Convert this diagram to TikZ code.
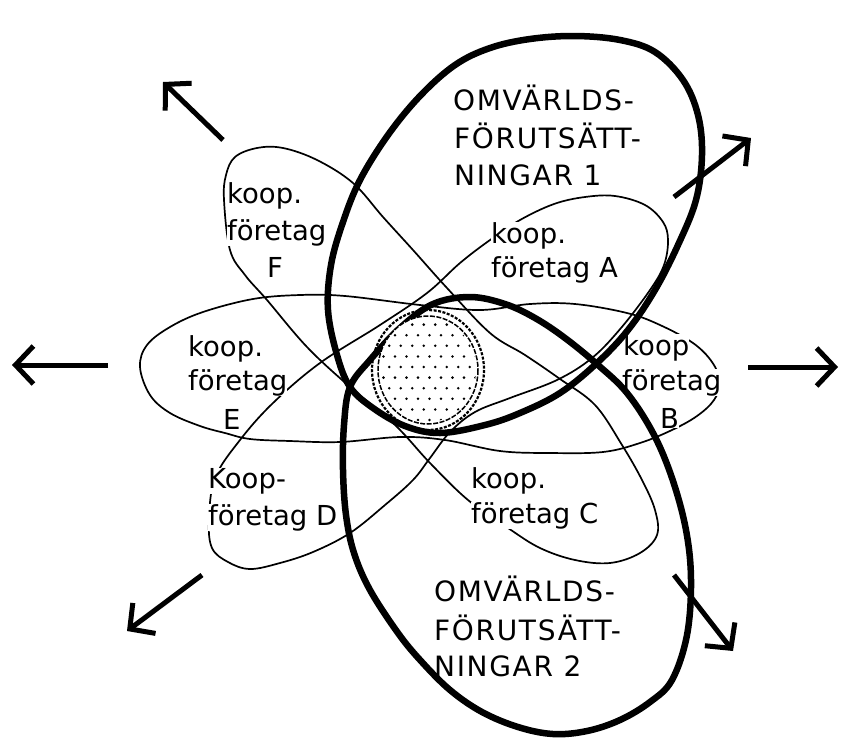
\documentclass[tikz,border=0pt]{standalone}
\usepackage{fontspec}
\setmainfont{DejaVu Sans}
\newfontfamily\capsfont[LetterSpace=6]{DejaVu Sans}
\usetikzlibrary{arrows.meta}
\tikzset{
  bigring/.style={line width=6.5pt, line join=round},
  petal/.style={line width=1.7pt, line join=round},
  lbl/.style={anchor=base west, inner sep=0pt, font=\fontsize{27.5}{36}\selectfont, fill=white},
  caplbl/.style={anchor=base west, inner sep=0pt, font=\capsfont\fontsize{28}{36}\selectfont},
  outarrow/.style={line width=5pt, -{Straight Barb[length=18pt,width=38pt]}},
}
\begin{document}
\begin{tikzpicture}[x=1pt,y=-1pt]
\fill[white] (0,0) rectangle (842,737);
\useasboundingbox (0,0) rectangle (842,737);

% petals (thin long ellipses)
\draw[petal] plot[smooth cycle, tension=0.6] coordinates {
 (140,367) (147,345) (170,327) (203,312) (253,299) (300,295) (345,296) (420,305)
 (480,310) (530,304) (575,304) (627,313) (660,325) (693,343) (712,362) (720,382)
 (714,400) (697,416) (672,430) (640,443) (603,452) (550,453) (500,451) (445,440)
 (400,437) (340,442) (290,441) (250,439) (225,433) (200,426) (170,413) (150,395)};
\draw[petal] plot[smooth cycle, tension=0.6] coordinates {
 (209,520) (215,478) (240,440) (273,403) (320,363) (380,325) (427,293) (460,263)
 (490,240) (520,220) (554,204) (585,197) (615,196) (645,205) (663,222) (668,240)
 (664,265) (650,290) (621,328) (592,358) (557,380) (510,398) (475,412) (450,432)
 (430,458) (413,480) (385,505) (350,533) (313,552) (280,563) (250,569) (228,562) (212,548)};
\draw[petal] plot[smooth cycle, tension=0.6] coordinates {
 (224,200) (226,175) (235,157) (257,148) (283,148) (317,160) (353,183) (383,217)
 (413,250) (447,288) (490,333) (525,355) (560,379) (595,405) (622,445) (642,480)
 (655,510) (657,535) (640,553) (610,563) (575,560) (540,548) (508,528) (468,500)
 (430,463) (395,425) (350,387) (307,347) (267,300) (245,275) (230,250)};

% labels of the petals
\node[lbl] (a1) at (491,243) {koop.};
\node[lbl] (a2) at (491,277) {företag A};
\node[lbl] (b1) at (623,355) {koop};
\node[lbl] (b2) at (622,390) {företag};
\node[lbl] (b3) at (660,428) {B};
\node[lbl] (c1) at (471,488) {koop.};
\node[lbl] (c2) at (471,523) {företag C};
\node[lbl] (d1) at (208,488) {Koop-};
\node[lbl] (d2) at (208,525) {företag D};
\node[lbl] (e1) at (188,356) {koop.};
\node[lbl] (e2) at (188,390) {företag};
\node[lbl] (e3) at (223,429) {E};
\node[lbl] (f1) at (227,203) {koop.};
\node[lbl] (f2) at (227,240) {företag};
\node[lbl] (f3) at (267,277) {F};

% big thick ellipses
\draw[bigring] plot[smooth cycle, tension=0.6] coordinates {
 (350,387) (337,355) (328,310) (331,265) (343,222) (360,180) (388,135) (420,96)
 (455,65) (490,48) (530,39) (575,36) (620,40) (655,52) (683,80) (698,115)
 (702,155) (696,200) (678,245) (655,290) (628,330) (597,363) (560,393) (520,413)
 (485,425) (440,433) (405,426) (373,408)};
\draw[bigring] plot[smooth cycle, tension=0.6] coordinates {
 (350,387) (370,360) (400,328) (433,304) (470,297) (505,304) (535,318) (565,338)
 (598,365) (627,393) (653,433) (672,478) (686,530) (691,580) (687,635) (672,680)
 (650,702) (620,720) (587,731) (553,734) (518,727) (482,712) (450,690) (421,661)
 (398,633) (370,590) (354,553) (346,515) (343,470) (344,425)};

\node[caplbl] (o1a) at (453,110) {OMVÄRLDS-};
\node[caplbl] (o1b) at (454,148) {FÖRUTSÄTT-};
\node[caplbl] (o1c) at (454,185) {NINGAR 1};
\node[caplbl] (o2a) at (434,601) {OMVÄRLDS-};
\node[caplbl] (o2b) at (434,640) {FÖRUTSÄTT-};
\node[caplbl] (o2c) at (434,676) {NINGAR 2};

% centre
\coordinate (ctr) at (428,370);
\draw[line width=2.2pt, dash pattern=on 3pt off 1.5pt] (ctr) ellipse [x radius=56, y radius=60];
\fill[white] (ctr) ellipse [x radius=50, y radius=54];
\begin{scope}
  \clip (ctr) ellipse [x radius=48, y radius=52];
  \foreach \j in {0,...,11}{
    \pgfmathsetmacro\yy{314+\j*10.6}
    \pgfmathsetmacro\off{mod(\j,2)*5.75}
    \foreach \i in {0,...,10}{
      \fill ({372+\i*11.5+\off},\yy) circle[radius=1.4pt];
    }
  }
\end{scope}
\draw[line width=1.5pt, dash pattern=on 5pt off 1.5pt] (ctr) ellipse [x radius=50, y radius=54];

% arrows
\coordinate (ulT) at (223,140); \coordinate (ulH) at (163,82);
\coordinate (lT) at (108,365);  \coordinate (lH) at (12,365);
\coordinate (urT) at (674,197); \coordinate (urH) at (751,138);
\coordinate (rT) at (748,367);  \coordinate (rH) at (838,367);
\coordinate (llT) at (202,575); \coordinate (llH) at (127,631);
\coordinate (lrT) at (674,575); \coordinate (lrH) at (733,651);
\draw[outarrow] (ulT) -- (ulH);
\draw[outarrow] (lT) -- (lH);
\draw[outarrow] (urT) -- (urH);
\draw[outarrow] (rT) -- (rH);
\draw[outarrow] (llT) -- (llH);
\draw[outarrow] (lrT) -- (lrH);
\end{tikzpicture}
\end{document}
